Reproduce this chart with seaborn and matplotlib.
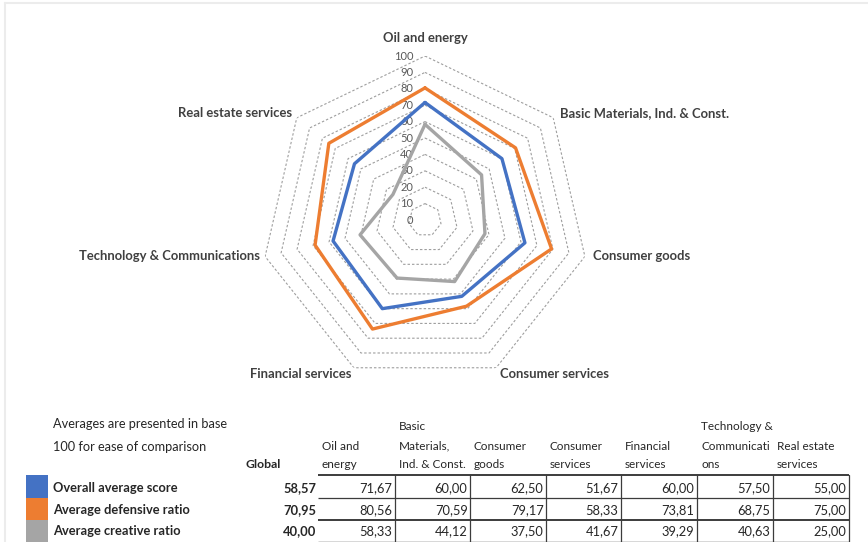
import numpy as np
import pandas as pd
import matplotlib
matplotlib.use("Agg")
import matplotlib.pyplot as plt
from matplotlib.patches import Rectangle
import seaborn as sns

# ---- data -------------------------------------------------------------
categories = [
    "Oil and energy",
    "Basic Materials, Ind. & Const.",
    "Consumer goods",
    "Consumer services",
    "Financial services",
    "Technology & Communications",
    "Real estate services",
]
header_lines = [
    ["Oil and", "energy"],
    ["Basic", "Materials,", "Ind. & Const."],
    ["Consumer", "goods"],
    ["Consumer", "services"],
    ["Financial", "services"],
    ["Technology &", "Communicati", "ons"],
    ["Real estate", "services"],
]
series_names = ["Overall average score", "Average defensive ratio", "Average creative ratio"]
overall = [71.67, 60.00, 62.50, 51.67, 60.00, 57.50, 55.00]
defensive = [80.56, 70.59, 79.17, 58.33, 73.81, 68.75, 75.00]
creative = [58.33, 44.12, 37.50, 41.67, 39.29, 40.63, 25.00]
global_values = [58.57, 70.95, 40.00]
radial_ticks = [0, 10, 20, 30, 40, 50, 60, 70, 80, 90, 100]
series_colors = ["#4472C4", "#ED7D31", "#A5A5A5"]

# ---- styling ----------------------------------------------------------
sns.set_theme(style="white")
plt.rcParams["font.family"] = ["Lato", "DejaVu Sans"]

W, H = 868, 542
fig = plt.figure(figsize=(W / 100, H / 100), dpi=100)
fig.patch.set_facecolor("white")

# overlay in pixel units for the table and the frame
ax_t = fig.add_axes([0, 0, 1, 1])
ax_t.set_xlim(0, W)
ax_t.set_ylim(H, 0)
ax_t.axis("off")
ax_t.patch.set_visible(False)

# faint chart frame
ax_t.plot([5, W], [3, 3], color="#ECECEC", lw=1.5)
ax_t.plot([5, 5], [3, H], color="#ECECEC", lw=1.5)

# ---- radar ------------------------------------------------------------
n = len(categories)
theta = np.linspace(0, 2 * np.pi, n, endpoint=False)
theta_closed = np.append(theta, 2 * np.pi)

cx, cy, R = 425, 220, 164
ax = fig.add_axes([(cx - R) / W, 1 - (cy + R) / H, 2 * R / W, 2 * R / H],
                  projection="polar")
ax.set_theta_offset(np.pi / 2)
ax.set_theta_direction(-1)
ax.set_ylim(0, 100)
ax.grid(False)
ax.spines["polar"].set_visible(False)
ax.set_xticks([])
ax.set_yticks([])
ax.patch.set_visible(False)

# polygonal dashed gridlines
for lvl in radial_ticks[1:]:
    ax.plot(theta_closed, [lvl] * (n + 1), color="#9E9E9E", lw=0.8,
            dashes=(2.2, 1.8), zorder=1)

# radial value labels
for lvl in radial_ticks:
    ax.annotate(str(lvl), xy=(0, lvl), xytext=(-8.5, 0), textcoords="offset points",
                ha="right", va="center", fontsize=8, color="#595959", zorder=2)

rows = []
for name, vals in zip(series_names, [overall, defensive, creative]):
    closed = list(vals) + [vals[0]]
    for t, v in zip(theta_closed, closed):
        rows.append({"series": name, "theta": t, "value": v})
df = pd.DataFrame(rows)

sns.lineplot(data=df, x="theta", y="value", hue="series", hue_order=series_names,
             palette=series_colors, sort=False, estimator=None, linewidth=2.4,
             legend=False, ax=ax, zorder=3)
ax.set_xlabel("")
ax.set_ylabel("")
ax.set_ylim(0, 100)

# category labels around the chart
label_offsets = [
    ((0, 13), "center"),
    ((5, 3.5), "left"),
    ((6, 0), "left"),
    ((3, -4.5), "left"),
    ((-1.5, -4.5), "right"),
    ((-4, 0), "right"),
    ((-3.5, 3.5), "right"),
]
for t, cat, (off, ha) in zip(theta, categories, label_offsets):
    ax.annotate(cat, xy=(t, 100), xytext=off, textcoords="offset points",
                ha=ha, va="center", fontsize=9.4, fontweight="bold",
                color="#404040", annotation_clip=False)

# ---- table ------------------------------------------------------------
txt = "#262626"
ax_t.text(53, 424, "Averages are presented in base", fontsize=9.2, color=txt, va="center")
ax_t.text(53, 447, "100 for ease of comparison", fontsize=9.2, color=txt, va="center")
ax_t.text(281, 465, "Global", fontsize=8.8, fontweight="bold", color=txt,
          ha="right", va="center")

col_edges = [318, 395, 470, 546, 621, 697, 773, 849]
header_y = [465, 446, 427]
for left, lines in zip(col_edges[:-1], header_lines):
    for y, line in zip(header_y, reversed(lines)):
        ax_t.text(left + 4, y, line, fontsize=8.5, color=txt, va="center")

row_top = [475, 498, 520]
row_h = [23, 22, 22]
row_y = [488, 510, 531]
table_values = [overall, defensive, creative]
for i, name in enumerate(series_names):
    ax_t.add_patch(Rectangle((26, row_top[i]), 22, row_h[i],
                             facecolor=series_colors[i], edgecolor="none"))
    ax_t.text(53, row_y[i], name, fontsize=9.3, fontweight="bold", color=txt, va="center")
    ax_t.text(316, row_y[i], f"{global_values[i]:.2f}".replace(".", ","),
              fontsize=9.3, fontweight="bold", color=txt, ha="right", va="center")
    for j, v in enumerate(table_values[i]):
        ax_t.text(col_edges[j + 1] - 2.5, row_y[i], f"{v:.2f}".replace(".", ","),
                  fontsize=9.3, color=txt, ha="right", va="center")

line_col = "#3C3C3C"
for y, lw in zip([475, 498, 520, 541.5], [1.4, 0.9, 1.4, 1.0]):
    ax_t.plot([col_edges[0], col_edges[-1]], [y, y], color=line_col, lw=lw,
              solid_capstyle="butt")
for x in col_edges[1:]:
    ax_t.plot([x, x], [475, 541.5], color=line_col, lw=0.9)

fig.savefig("out.png", dpi=100, facecolor="white")
